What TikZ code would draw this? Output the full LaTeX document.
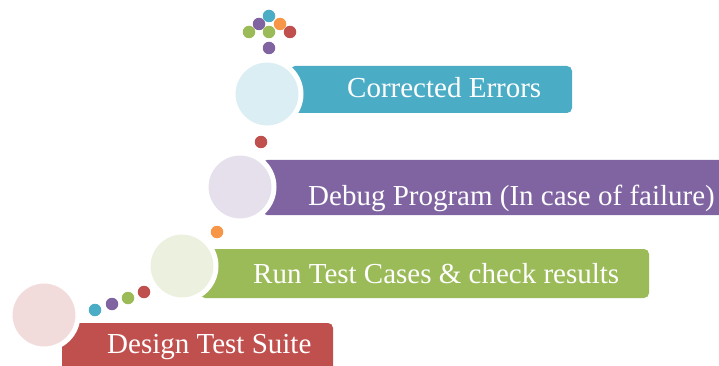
\documentclass[tikz,border=0pt]{standalone}
\usepackage{fontspec}
\setmainfont{Liberation Serif}
\definecolor{cred}{HTML}{C0504D}
\definecolor{cgreen}{HTML}{9BBB59}
\definecolor{cpurple}{HTML}{8064A2}
\definecolor{cblue}{HTML}{4BACC6}
\definecolor{corange}{HTML}{F79646}
\definecolor{lred}{HTML}{F2DCDB}
\definecolor{lgreen}{HTML}{EBF1DE}
\definecolor{lpurple}{HTML}{E5E0EC}
\definecolor{lblue}{HTML}{DBEEF4}
\tikzset{
  bar/.style={rounded corners=5pt},
  disc/.style={circle, minimum size=68pt, inner sep=0pt, draw=white, line width=5pt},
  dot/.style={circle, minimum size=12.5pt, inner sep=0pt},
  label/.style={anchor=base west, text=white, font=\fontsize{29}{30}\selectfont, inner sep=0pt}
}
\begin{document}
\begin{tikzpicture}[x=1pt, y=-1pt]
\useasboundingbox (0,0) rectangle (719,366);
\clip (0,0) rectangle (719,366);
% bars
\fill[cred, bar] (62,323) rectangle (333,380);
\fill[cgreen, bar] (200,249) rectangle (649,298);
\fill[cpurple, bar] (262,160) rectangle (740,215);
\fill[cblue, bar] (290,66) rectangle (572,113);
% circles
\node[disc, fill=lred] (c1) at (44,315) {};
\node[disc, fill=lgreen] (c2) at (182,266) {};
\node[disc, fill=lpurple] (c3) at (240,187) {};
\node[disc, fill=lblue] (c4) at (267,94) {};
% labels
\node[label] (t1) at (107,353) {Design Test Suite};
\node[label] (t2) at (253,283) {Run Test Cases \& check results};
\node[label] (t3) at (308,205) {Debug Program (In case of failure)};
\node[label] (t4) at (347,98) {Corrected Errors};
% connecting dots
\node[dot, fill=cblue] (d1) at (95,310) {};
\node[dot, fill=cpurple] (d2) at (112,304) {};
\node[dot, fill=cgreen] (d3) at (128,298) {};
\node[dot, fill=cred] (d4) at (144,292) {};
\node[dot, fill=corange] (d5) at (217,232) {};
\node[dot, fill=cred] (d6) at (261,142) {};
% top cluster
\node[dot, fill=cblue] (e1) at (269,16) {};
\node[dot, fill=cpurple] (e2) at (259,24) {};
\node[dot, fill=corange] (e3) at (280,24) {};
\node[dot, fill=cgreen] (e4) at (249,32) {};
\node[dot, fill=cgreen] (e5) at (269,32) {};
\node[dot, fill=cred] (e6) at (290,32) {};
\node[dot, fill=cpurple] (e7) at (269,48) {};
\end{tikzpicture}
\end{document}
